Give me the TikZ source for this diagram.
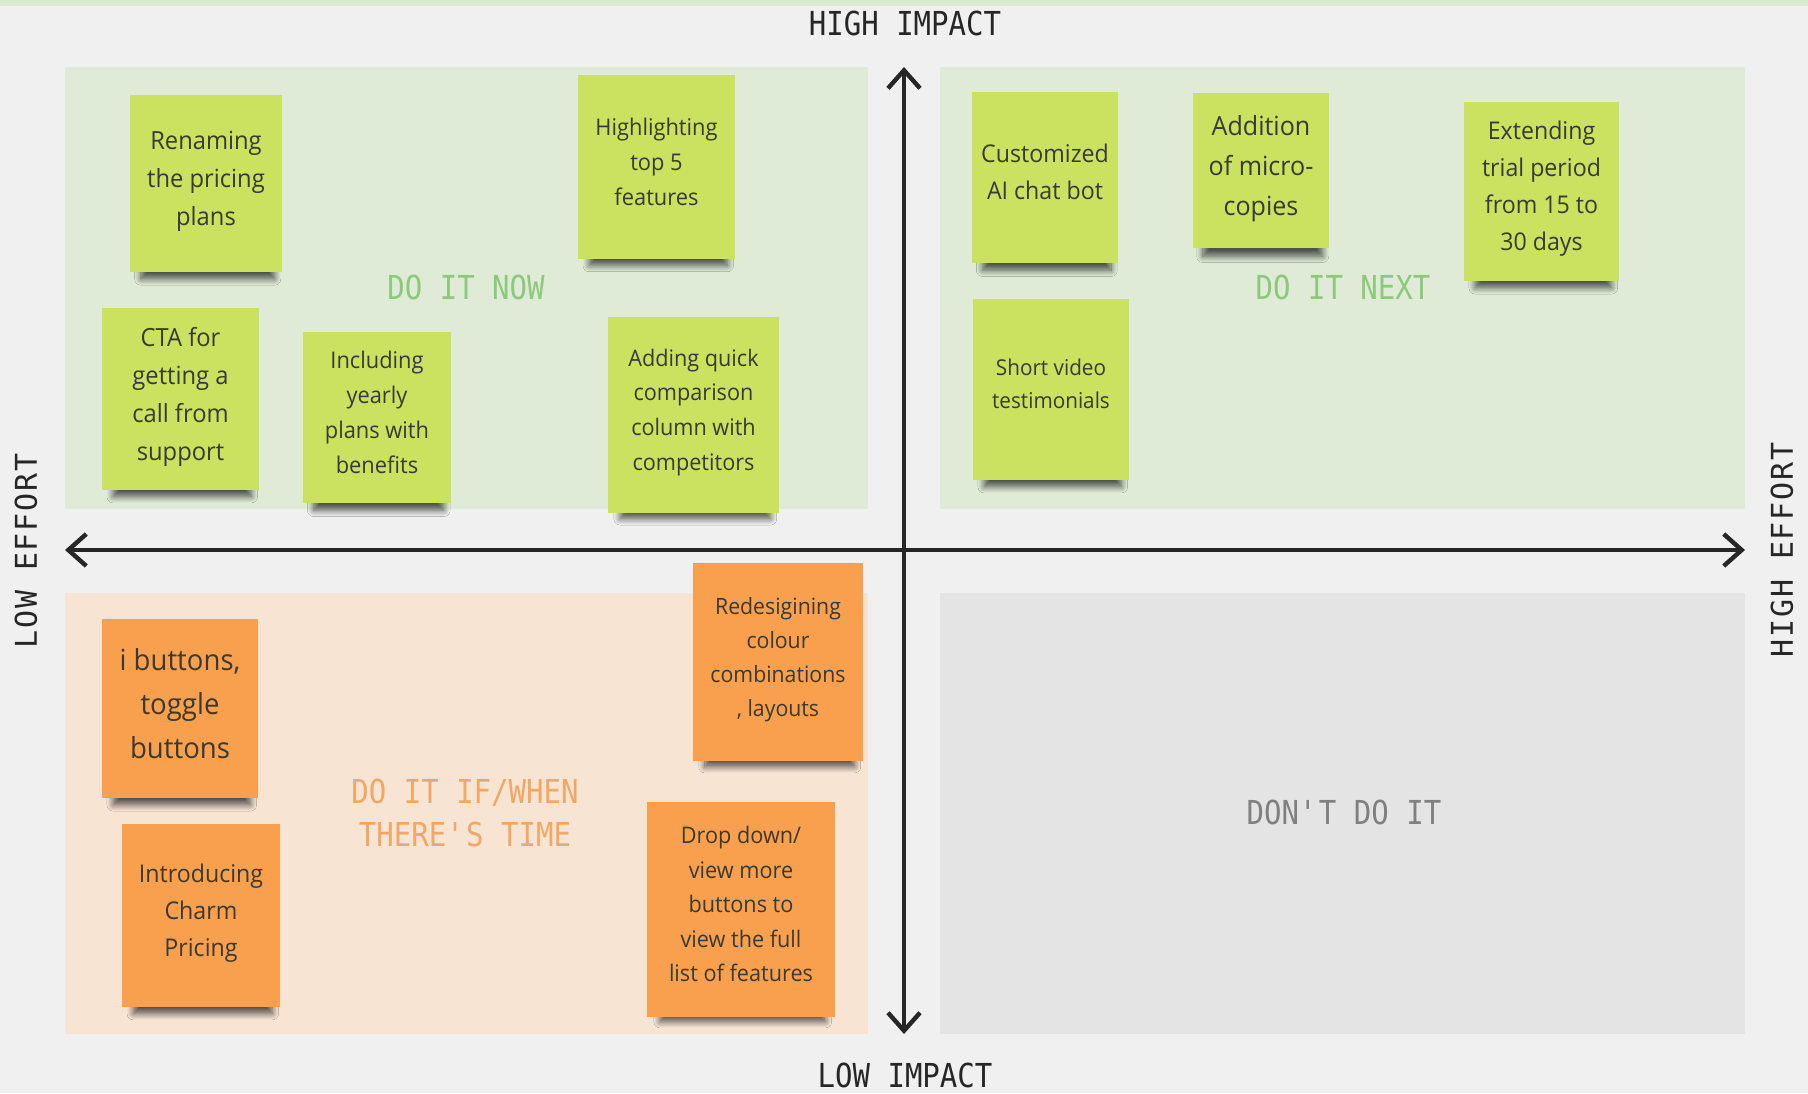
\documentclass[tikz,border=0pt]{standalone}
\usepackage{fontspec}
\setmainfont{Open Sans}[FakeStretch=0.95]
\newfontfamily\quadfont{DejaVu Sans Mono}[FakeStretch=0.88]
\newfontfamily\sidefont{DejaVu Sans Mono}[LetterSpace=6]
\usetikzlibrary{arrows.meta}
\usetikzlibrary{shadows.blur}

\definecolor{boardgray}{HTML}{F0F0F0}
\definecolor{topstrip}{HTML}{D9EAD3}
\definecolor{nowgreen}{HTML}{DFEBD6}
\definecolor{laterpeach}{HTML}{F8E4D3}
\definecolor{dontgray}{HTML}{E4E4E4}
\definecolor{notegreen}{HTML}{CBE160}
\definecolor{noteorange}{HTML}{F9A04E}
\definecolor{notetext}{HTML}{3A3A30}
\definecolor{labgreen}{HTML}{8CC97A}
\definecolor{laborange}{HTML}{F2A765}
\definecolor{labgray}{HTML}{808080}
\definecolor{axistext}{HTML}{262626}

\tikzset{
	note/.style={rectangle, fill=notegreen, text=notetext, align=center, inner sep=0pt, text depth=5.5pt,
		blur shadow={shadow xshift=1pt, shadow yshift=-10pt, shadow scale=0.88,
			shadow blur radius=3.5pt, shadow blur steps=10, shadow opacity=65}},
	laternote/.style={note, fill=noteorange},
	quadlabel/.style={align=center, font=\quadfont\fontsize{16.5}{21.5}\selectfont},
	axislabel/.style={text=axistext, font=\quadfont\fontsize{16.5}{20}\selectfont},
	sidelabel/.style={text=axistext, rotate=90, font=\sidefont\fontsize{15}{18}\selectfont},
	axisline/.style={line width=2.2pt, draw=axistext,
		{Straight Barb[length=9pt,width=16pt]}-{Straight Barb[length=9pt,width=16pt]}}
}

\begin{document}
\begin{tikzpicture}[x=0.5pt, y=-0.5pt]

	\useasboundingbox (0,0) rectangle (1808,1093);
	\fill [boardgray] (0,0) rectangle (1808,1093);
	\fill [topstrip] (0,0) rectangle (1808,6);

	% quadrants
	\fill [nowgreen] (65,67) rectangle (868,509);
	\fill [nowgreen] (940,67) rectangle (1745,509);
	\fill [laterpeach] (65,593) rectangle (868,1034);
	\fill [dontgray] (940,593) rectangle (1745,1034);

	\node [quadlabel, text=labgreen] (now) at (466,287) {DO IT NOW};
	\node [quadlabel, text=labgreen] (next) at (1343,287) {DO IT NEXT};
	\node [quadlabel, text=laborange] (iftime) at (465,813) {DO IT IF/WHEN\\THERE\textquotesingle S TIME};
	\node [quadlabel, text=labgray] (dont) at (1344,812) {DON\textquotesingle T DO IT};

	% do it now
	\node [note, minimum width=76pt, minimum height=88.5pt, font=\fontsize{12.5}{19}\selectfont] (ren) at (206,183.5) {Renaming\\the pricing\\plans};
	\node [note, minimum width=78.5pt, minimum height=92pt, font=\fontsize{11.5}{17.5}\selectfont] (hig) at (656.5,167) {Highlighting\\top 5\\features};
	\node [note, minimum width=78.5pt, minimum height=91pt, font=\fontsize{12.5}{19}\selectfont] (cta) at (180.5,399) {CTA for\\getting a\\call from\\support};
	\node [note, minimum width=74pt, minimum height=85.5pt, font=\fontsize{11.5}{17.5}\selectfont] (yea) at (377,417.5) {Including\\yearly\\plans with\\benefits};
	\node [note, minimum width=85.5pt, minimum height=98pt, font=\fontsize{11.4}{17.3}\selectfont] (cmp) at (693.5,415) {Adding quick\\comparison\\column with\\competitors};

	% do it next
	\node [note, minimum width=73pt, minimum height=85.5pt, font=\fontsize{12.2}{18.5}\selectfont] (bot) at (1045,177.5) {Customized\\AI chat bot};
	\node [note, minimum width=68pt, minimum height=77.5pt, font=\fontsize{13.2}{20}\selectfont] (mic) at (1261,170.5) {Addition\\of micro-\\copies};
	\node [note, minimum width=77.5pt, minimum height=89.5pt, font=\fontsize{12.2}{18.5}\selectfont] (tri) at (1541.5,191.5) {Extending\\trial period\\from 15 to\\30 days};
	\node [note, minimum width=78pt, minimum height=90.5pt, font=\fontsize{10.9}{16.5}\selectfont] (vid) at (1051,389.5) {Short video\\testimonials};

	% if/when there's time
	\node [laternote, minimum width=78pt, minimum height=89.5pt, font=\fontsize{14.5}{22}\selectfont] (btn) at (180,708.5) {i buttons,\\toggle\\buttons};
	\node [laternote, minimum width=79pt, minimum height=91.5pt, font=\fontsize{12.2}{18.5}\selectfont] (chp) at (201,915.5) {Introducing\\Charm\\Pricing};
	\node [laternote, minimum width=85pt, minimum height=99pt, font=\fontsize{11.2}{17}\selectfont] (col) at (778,662) {Redesigining\\colour\\combinations\\, layouts};
	\node [laternote, minimum width=94pt, minimum height=107.5pt, font=\fontsize{11.4}{17.3}\selectfont] (drp) at (741,909.5) {Drop down/\\view more\\buttons to\\view the full\\list of features};

	% axes
	\coordinate (imptop) at (904,67);
	\coordinate (impbot) at (904,1034);
	\coordinate (effleft) at (65,550);
	\coordinate (effright) at (1745,550);
	\draw [axisline] (impbot) -- (imptop);
	\draw [axisline] (effleft) -- (effright);

	\node [axislabel] (high) at (905,23) {HIGH IMPACT};
	\node [axislabel] (low) at (905,1075) {LOW IMPACT};
	\node [sidelabel] (loweff) at (26,551) {LOW EFFORT};
	\node [sidelabel] (higheff) at (1782,550) {HIGH EFFORT};

\end{tikzpicture}
\end{document}
